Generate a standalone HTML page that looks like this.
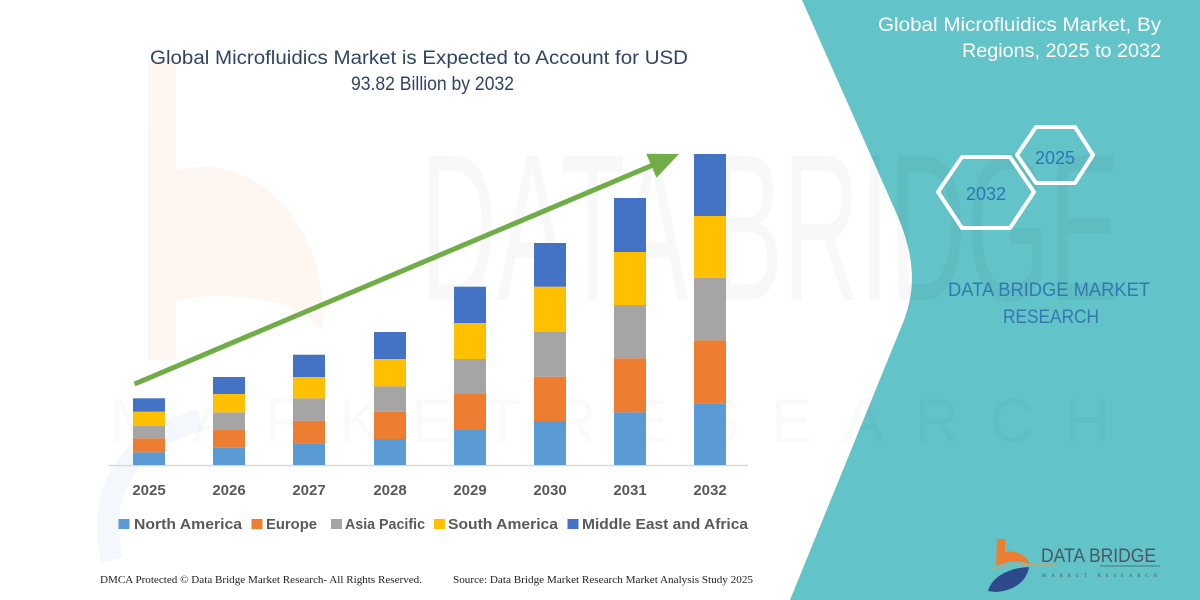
<!DOCTYPE html>
<html><head><meta charset="utf-8"><style>
html,body{margin:0;padding:0;background:#fff;}
svg{display:block;}
</style></head><body>
<svg width="1200" height="600" viewBox="0 0 1200 600" xmlns="http://www.w3.org/2000/svg">
<rect width="1200" height="600" fill="#ffffff"/>
<!-- faint left logo watermark -->
<g opacity="0.07">
<rect x="148" y="60" width="28" height="300" fill="#ED7D31"/>
<path d="M176,170 C260,150 330,230 322,330 C300,300 240,290 176,300 Z" fill="#ED7D31"/>
</g>
<path d="M112,560 C95,490 130,440 200,420" fill="none" stroke="rgba(68,114,196,0.06)" stroke-width="22"/>
<!-- teal panel -->
<path d="M802,0 L895,210 C915,255 918,290 900,330 L790,600 L1200,600 L1200,0 Z" fill="#62C3C8"/>
<!-- big watermark -->
<text x="420" y="300" font-family="Liberation Sans, sans-serif" font-size="210" textLength="700" lengthAdjust="spacingAndGlyphs" fill="rgba(0,0,0,0.028)">DATA BRIDGE</text>
<text x="110" y="442" font-family="Liberation Sans, sans-serif" font-size="62" textLength="1000" lengthAdjust="spacing" fill="rgba(0,0,0,0.02)">MARKETRESEARCH</text>

<!-- main title -->
<text x="150" y="64" font-family="Liberation Sans, sans-serif" font-size="19" fill="#2F4465" textLength="538" lengthAdjust="spacingAndGlyphs">Global Microfluidics Market is Expected to Account for  USD</text>
<text x="351" y="90" font-family="Liberation Sans, sans-serif" font-size="19" fill="#2F4465" textLength="163" lengthAdjust="spacingAndGlyphs">93.82 Billion by 2032</text>

<!-- axis -->
<line x1="109" y1="465.5" x2="748" y2="465.5" stroke="#D9D9D9" stroke-width="1.5"/>

<!-- bars -->
<g>
<rect x="133" y="452.3" width="32" height="12.7" fill="#5B9BD5"/>
<rect x="133" y="438.3" width="32" height="14" fill="#ED7D31"/>
<rect x="133" y="425.7" width="32" height="12.6" fill="#A5A5A5"/>
<rect x="133" y="411.7" width="32" height="14" fill="#FFC000"/>
<rect x="133" y="398.3" width="32" height="13.4" fill="#4472C4"/>
<rect x="213" y="447.7" width="32" height="17.3" fill="#5B9BD5"/>
<rect x="213" y="429.3" width="32" height="18.4" fill="#ED7D31"/>
<rect x="213" y="412.3" width="32" height="17" fill="#A5A5A5"/>
<rect x="213" y="394" width="32" height="18.3" fill="#FFC000"/>
<rect x="213" y="377" width="32" height="17" fill="#4472C4"/>
<rect x="293" y="443.3" width="32" height="21.7" fill="#5B9BD5"/>
<rect x="293" y="420.7" width="32" height="22.6" fill="#ED7D31"/>
<rect x="293" y="398.3" width="32" height="22.4" fill="#A5A5A5"/>
<rect x="293" y="377" width="32" height="21.3" fill="#FFC000"/>
<rect x="293" y="354.7" width="32" height="22.3" fill="#4472C4"/>
<rect x="374" y="439" width="32" height="26" fill="#5B9BD5"/>
<rect x="374" y="411.7" width="32" height="27.3" fill="#ED7D31"/>
<rect x="374" y="386.3" width="32" height="25.4" fill="#A5A5A5"/>
<rect x="374" y="359" width="32" height="27.3" fill="#FFC000"/>
<rect x="374" y="332" width="32" height="27" fill="#4472C4"/>
<rect x="454" y="430" width="32" height="35" fill="#5B9BD5"/>
<rect x="454" y="394" width="32" height="36" fill="#ED7D31"/>
<rect x="454" y="359" width="32" height="35" fill="#A5A5A5"/>
<rect x="454" y="323" width="32" height="36" fill="#FFC000"/>
<rect x="454" y="286.7" width="32" height="36.3" fill="#4472C4"/>
<rect x="534" y="421" width="32" height="44" fill="#5B9BD5"/>
<rect x="534" y="376.7" width="32" height="44.3" fill="#ED7D31"/>
<rect x="534" y="332" width="32" height="44.7" fill="#A5A5A5"/>
<rect x="534" y="286.7" width="32" height="45.3" fill="#FFC000"/>
<rect x="534" y="243" width="32" height="43.7" fill="#4472C4"/>
<rect x="614" y="412.3" width="32" height="52.7" fill="#5B9BD5"/>
<rect x="614" y="358.3" width="32" height="54" fill="#ED7D31"/>
<rect x="614" y="305" width="32" height="53.3" fill="#A5A5A5"/>
<rect x="614" y="252" width="32" height="53" fill="#FFC000"/>
<rect x="614" y="198" width="32" height="54" fill="#4472C4"/>
<rect x="694" y="403.3" width="32" height="61.7" fill="#5B9BD5"/>
<rect x="694" y="340.3" width="32" height="63" fill="#ED7D31"/>
<rect x="694" y="277.7" width="32" height="62.6" fill="#A5A5A5"/>
<rect x="694" y="216" width="32" height="61.7" fill="#FFC000"/>
<rect x="694" y="154" width="32" height="62" fill="#4472C4"/>
</g>

<!-- arrow -->
<line x1="134.5" y1="384" x2="653" y2="165" stroke="#70AD47" stroke-width="5"/>
<polygon points="679,154 646.3,153.7 656.5,177.7" fill="#70AD47"/>

<!-- year labels -->
<g font-family="Liberation Sans, sans-serif" font-size="15" font-weight="bold" fill="#595959" text-anchor="middle">
<text x="149" y="495">2025</text>
<text x="229" y="495">2026</text>
<text x="309" y="495">2027</text>
<text x="390" y="495">2028</text>
<text x="470" y="495">2029</text>
<text x="550" y="495">2030</text>
<text x="630" y="495">2031</text>
<text x="710" y="495">2032</text>
</g>

<!-- legend -->
<g font-family="Liberation Sans, sans-serif" font-size="15" font-weight="bold" fill="#595959">
<rect x="118.5" y="519" width="11" height="10" fill="#5B9BD5"/>
<text x="134" y="529" textLength="108" lengthAdjust="spacingAndGlyphs">North America</text>
<rect x="251.5" y="519" width="11" height="10" fill="#ED7D31"/>
<text x="266" y="529" textLength="51" lengthAdjust="spacingAndGlyphs">Europe</text>
<rect x="331" y="519" width="11" height="10" fill="#A5A5A5"/>
<text x="345" y="529" textLength="80" lengthAdjust="spacingAndGlyphs">Asia Pacific</text>
<rect x="434" y="519" width="11" height="10" fill="#FFC000"/>
<text x="448" y="529" textLength="110" lengthAdjust="spacingAndGlyphs">South America</text>
<rect x="567.5" y="519" width="11" height="10" fill="#4472C4"/>
<text x="582" y="529" textLength="166" lengthAdjust="spacingAndGlyphs">Middle East and Africa</text>
</g>

<!-- footer -->
<g font-family="Liberation Serif, serif" font-size="11" fill="#222">
<text x="100" y="583" textLength="322" lengthAdjust="spacingAndGlyphs">DMCA Protected © Data Bridge Market Research-  All Rights Reserved.</text>
<text x="453" y="583" textLength="300" lengthAdjust="spacingAndGlyphs">Source: Data Bridge Market Research  Market Analysis Study 2025</text>
</g>

<!-- right panel title -->
<g font-family="Liberation Sans, sans-serif" font-size="19" fill="#ffffff" text-anchor="end">
<text x="1161" y="31" textLength="283" lengthAdjust="spacingAndGlyphs">Global Microfluidics Market, By</text>
<text x="1161" y="57" textLength="199" lengthAdjust="spacingAndGlyphs">Regions, 2025 to 2032</text>
</g>

<!-- hexagons -->
<polygon points="938,192 962,157 1010,157 1034,192 1010,228 962,228" fill="none" stroke="#ffffff" stroke-width="4" stroke-linejoin="round"/>
<polygon points="1017,155 1036,127 1075,127 1093,155 1075,183 1036,183" fill="none" stroke="#ffffff" stroke-width="4" stroke-linejoin="round"/>
<g font-family="Liberation Sans, sans-serif" font-size="18" fill="#2E75B6" text-anchor="middle">
<text x="986" y="200">2032</text>
<text x="1055" y="164">2025</text>
</g>

<!-- DATA BRIDGE MARKET RESEARCH -->
<g font-family="Liberation Sans, sans-serif" font-size="19" fill="#3478B2" text-anchor="middle">
<text x="1049" y="296" textLength="202" lengthAdjust="spacingAndGlyphs">DATA BRIDGE MARKET</text>
<text x="1051" y="323" textLength="96" lengthAdjust="spacingAndGlyphs">RESEARCH</text>
</g>

<!-- bottom right logo -->
<path d="M997,539 h8 v13 c12,-2 22,3 25,13 c-8,-5 -20,-5 -34,1 z" fill="#ED7D31"/>
<path d="M988,591 c4,-14 20,-23 41,-24 c-2,14 -15,24 -34,25 z" fill="#2C4A8C"/>
<path d="M990,570 c15,-5 40,-7 68,-5" fill="none" stroke="#c9a96a" stroke-width="1"/>
<text x="1041" y="562" font-family="Liberation Sans, sans-serif" font-size="19" fill="#4A5866" textLength="115" lengthAdjust="spacingAndGlyphs">DATA BRIDGE</text>
<line x1="1100" y1="566" x2="1160" y2="566" stroke="#4A5866" stroke-width="0.8"/>
<text x="1042" y="577" font-family="Liberation Serif, serif" font-size="5" fill="#4A5866" textLength="115" lengthAdjust="spacing">MARKET   RESEARCH</text>
</svg>
</body></html>
